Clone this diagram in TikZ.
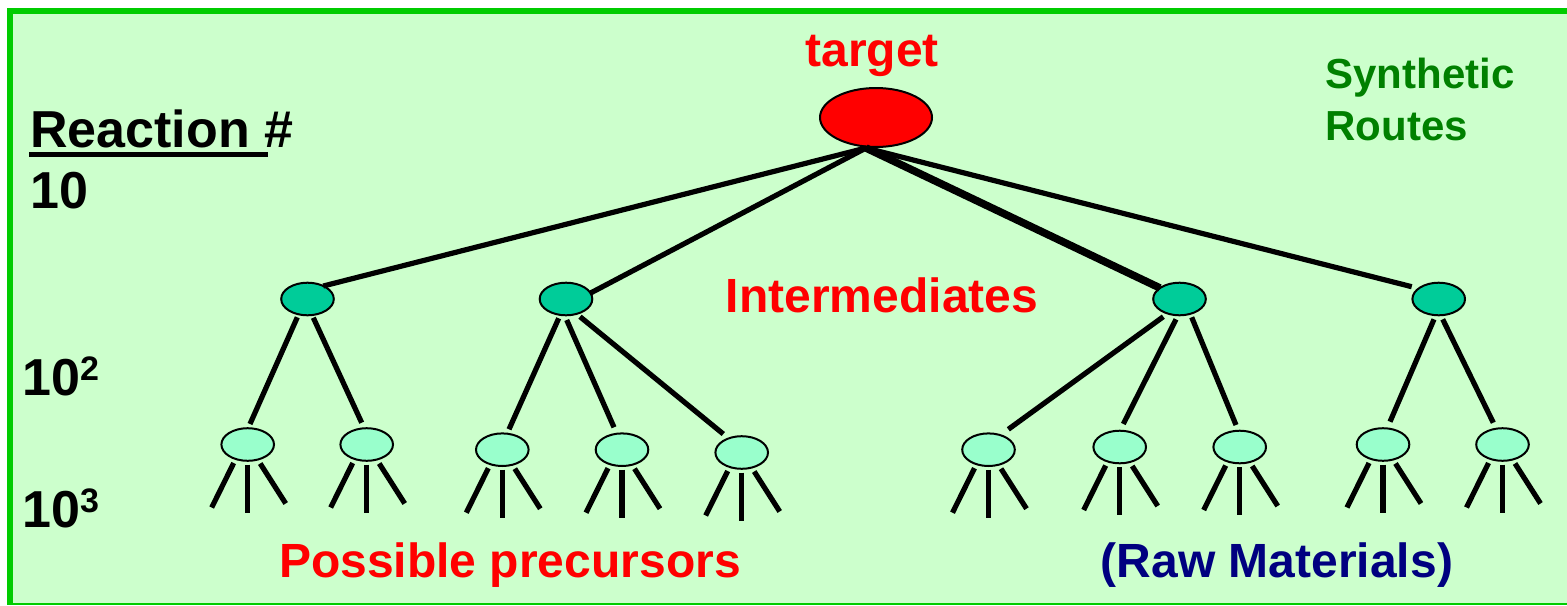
\documentclass[tikz,border=0pt]{standalone}
\usepackage{fontspec}
\setmainfont{Liberation Sans}
\usetikzlibrary{shapes.geometric}
\definecolor{bggreen}{HTML}{CCFFCC}
\definecolor{framegreen}{HTML}{00CC00}
\definecolor{tred}{HTML}{FF0000}
\definecolor{midteal}{HTML}{00CC99}
\definecolor{leafmint}{HTML}{99FFCC}
\definecolor{rawnavy}{HTML}{000080}
\definecolor{routegreen}{HTML}{008000}
\begin{document}
\begin{tikzpicture}[x=0.5pt,y=-0.5pt,
  tgtnode/.style={ellipse,draw=black,line width=1pt,fill=tred,minimum width=56pt,minimum height=29.5pt,inner sep=0pt},
  midnode/.style={ellipse,draw=black,line width=1pt,fill=midteal,minimum width=26.3pt,minimum height=16.3pt,inner sep=0pt},
  leafnode/.style={ellipse,draw=black,line width=1pt,fill=leafmint,minimum width=26.3pt,minimum height=16.3pt,inner sep=0pt},
  edge/.style={line width=2.6pt,black},
  thickedge/.style={line width=3.8pt,black},
  prong/.style={line width=2.6pt,black},
  redlabel/.style={font=\bfseries\fontsize{24pt}{28pt}\selectfont,text=tred,inner sep=0pt,anchor=base},
  navylabel/.style={font=\bfseries\fontsize{24pt}{28pt}\selectfont,text=rawnavy,inner sep=0pt,anchor=base},
  routelabel/.style={font=\bfseries\fontsize{21pt}{26pt}\selectfont,text=routegreen,inner sep=0pt,anchor=base west},
  countlabel/.style={font=\bfseries\fontsize{26pt}{30pt}\selectfont,text=black,inner sep=0pt,anchor=base west}
]
\useasboundingbox (0,0) rectangle (1567,605);
% frame
\fill[bggreen] (7,8) rectangle (1567,603);
\fill[framegreen] (7,8) rectangle (13,604.5);
\fill[framegreen] (7,8) rectangle (1567,13.5);
\fill[framegreen] (7,603) rectangle (1567,604.5);

% nodes
\node[tgtnode] (t) at (876,117.5) {};
\node[midnode] (m1) at (307.5,299) {};
\node[midnode] (m2) at (566,299) {};
\node[midnode] (m3) at (1179.5,299) {};
\node[midnode] (m4) at (1438.7,299) {};
\node[leafnode] (a) at (247.7,444.5) {};
\node[leafnode] (b) at (366.7,444.5) {};
\node[leafnode] (c) at (502.3,449.7) {};
\node[leafnode] (d) at (622,449.7) {};
\node[leafnode] (e) at (741.7,452.5) {};
\node[leafnode] (f) at (988.5,449.7) {};
\node[leafnode] (g) at (1119.7,447) {};
\node[leafnode] (h) at (1239.7,447) {};
\node[leafnode] (i) at (1383,444.5) {};
\node[leafnode] (j) at (1502.5,444.5) {};

% target -> intermediates
\coordinate (tb) at ([shift={(-10,30.5)}]t.center);
\draw[edge] (tb) -- ([shift={(15.8,-13)}]m1.center);
\draw[edge] (tb) -- ([shift={(24,-5.7)}]m2.center);
\draw[thickedge] (tb) -- ([shift={(-19.5,-11)}]m3.center);
\draw[edge] (tb) -- ([shift={(-27,-12.3)}]m4.center);

% intermediates -> precursors
\draw[edge] ([shift={(-10.2,18.3)}]m1.center) -- ([shift={(2.3,-20.5)}]a.center);
\draw[edge] ([shift={(5.8,18.7)}]m1.center) -- ([shift={(-5,-21.8)}]b.center);
\draw[edge] ([shift={(-7.3,19.3)}]m2.center) -- ([shift={(6.7,-20.4)}]c.center);
\draw[edge] ([shift={(0.7,21)}]m2.center) -- ([shift={(-8,-22.4)}]d.center);
\draw[edge] ([shift={(14,17.7)}]m2.center) -- ([shift={(-18.4,-18.5)}]e.center);
\draw[edge] ([shift={(-16.2,17.7)}]m3.center) -- ([shift={(19.8,-20.4)}]f.center);
\draw[edge] ([shift={(-3.5,20.3)}]m3.center) -- ([shift={(3.6,-23)}]g.center);
\draw[edge] ([shift={(12.2,18.3)}]m3.center) -- ([shift={(-3.7,-22)}]h.center);
\draw[edge] ([shift={(-4.7,20.3)}]m4.center) -- ([shift={(7,-22.8)}]i.center);
\draw[edge] ([shift={(4,20.3)}]m4.center) -- ([shift={(-9.2,-21.8)}]j.center);

% prongs below each precursor
\foreach \n in {a,b,c,d,e,f,g,h,i,j}{
  \draw[prong] ([shift={(-14,18.5)}]\n.center) -- ++(-22,44.5);
  \draw[prong] ([shift={(0,20)}]\n.center) -- ++(0,48);
  \draw[prong] ([shift={(12.5,19)}]\n.center) -- ++(25.5,40);
}

% labels
\node[redlabel] (lt) at (872,66) {target};
\node[redlabel] (li) at (882,312) {Intermediates};
\node[redlabel] (lp) at (510,577) {Possible precursors};
\node[navylabel] (lr) at (1277,577) {(Raw Materials)};
\node[routelabel] (ls) at (1325,88) {Synthetic};
\node[routelabel] (lro) at (1325,140) {Routes};
\node[countlabel] (lreac) at (30,147) {Reaction \#};
\draw[line width=2.5pt] (29,154.5) -- (268,154.5);
\node[countlabel] (l1) at (30,208) {10};
\node[countlabel] (l2) at (22,395) {10\raisebox{7.5pt}{\fontsize{17pt}{20pt}\selectfont 2}};
\node[countlabel] (l3) at (22,527) {10\raisebox{7.5pt}{\fontsize{17pt}{20pt}\selectfont 3}};
\end{tikzpicture}
\end{document}
